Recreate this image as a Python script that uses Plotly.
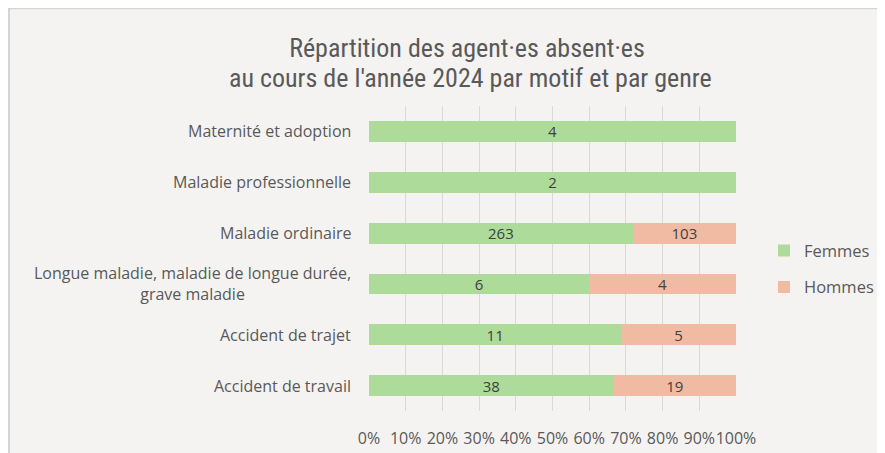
import plotly.graph_objects as go

categories = [
    "Maternité et adoption",
    "Maladie professionnelle",
    "Maladie ordinaire",
    "Longue maladie, maladie de longue durée,<br>grave maladie",
    "Accident de trajet",
    "Accident de travail",
]
femmes = [4, 2, 263, 6, 11, 38]
hommes = [0, 0, 103, 4, 5, 19]
x_ticks = [0, 10, 20, 30, 40, 50, 60, 70, 80, 90, 100]
x_tick_labels = [f"{v}%" for v in x_ticks]
title_lines = ["Répartition des agent·es absent·es",
               "au cours de l'année 2024 par motif et par genre"]

GREEN = "#ADDB99"
SALMON = "#F0BBA2"
TEXT = "#404040"
LABEL = "#595959"
FONT = "Open Sans, Liberation Sans, Arial, sans-serif"
TFONT = "Liberation Sans Narrow, Roboto Condensed, Arial Narrow, sans-serif"

# page is offset by the body margin (8px)
OFF = 8
W, H = 885, 453
L, R = 369 - OFF, 736 - OFF
T, B = 106 - OFF, 411.5 - OFF
pw, ph = R - L, B - T

def px(x):
    return (x - OFF - L) / pw

def py(y):
    return (B - (y - OFF)) / ph

fig = go.Figure()
for name, vals, col, grp in [("Femmes", femmes, GREEN, "f"), ("Hommes", hommes, SALMON, "h")]:
    fig.add_trace(go.Bar(
        y=categories, x=vals, name=name, orientation="h",
        marker=dict(color=col, line=dict(width=0)),
        text=[str(v) if v else "" for v in vals],
        textposition="inside", insidetextanchor="middle", textangle=0,
        constraintext="none",
        textfont=dict(color=TEXT, size=15, family=FONT),
        legendgroup=grp,
    ))

annotations = []
for c in categories:
    annotations.append(dict(
        x=px(353), xref="paper", y=c, yref="y",
        text=c, showarrow=False, xanchor="right", align="center",
        font=dict(size=16, color=LABEL, family=FONT),
    ))
annotations.append(dict(
    x=px(470), xref="paper", y=py(78), yref="paper",
    text=title_lines[1], showarrow=False, xanchor="center", yanchor="middle",
    font=dict(size=26, color=LABEL, family=TFONT),
))

fig.update_layout(
    width=W, height=H,
    barmode="stack", barnorm="percent", bargap=0.59,
    uniformtext=dict(minsize=15, mode="show"),
    margin=dict(l=L, r=W - R, t=T, b=H - B, pad=0),
    paper_bgcolor="white", plot_bgcolor="rgba(0,0,0,0)",
    title=dict(
        text=title_lines[0],
        x=(467 - OFF) / W, xanchor="center", xref="container",
        y=1 - (48 - OFF) / H, yanchor="middle", yref="container",
        font=dict(size=26, color=LABEL, family=TFONT),
    ),
    xaxis=dict(
        range=[0, 100], tickvals=x_ticks, ticktext=x_tick_labels,
        showgrid=True, gridcolor="#D9D9D9", gridwidth=1,
        zeroline=False, showline=False, ticks="", tickangle=0,
        ticklabelstandoff=16,
        tickfont=dict(size=16, color=LABEL, family=FONT),
        fixedrange=True,
    ),
    yaxis=dict(
        autorange="reversed", showticklabels=False, showgrid=False,
        zeroline=False, showline=False, ticks="", fixedrange=True,
    ),
    legend=dict(
        x=px(764), xanchor="left", y=py(269), yanchor="middle",
        font=dict(size=16.5, color=LABEL, family=FONT),
        tracegroupgap=12, bgcolor="rgba(0,0,0,0)",
    ),
    annotations=annotations,
    shapes=[dict(
        type="rect", xref="paper", yref="paper",
        x0=px(9), x1=px(910), y0=py(480), y1=py(8),
        fillcolor="#F4F3F1", line=dict(color="#D4D4D4", width=2),
        layer="below",
    )],
    showlegend=True,
)

fig.write_html("out.html")
